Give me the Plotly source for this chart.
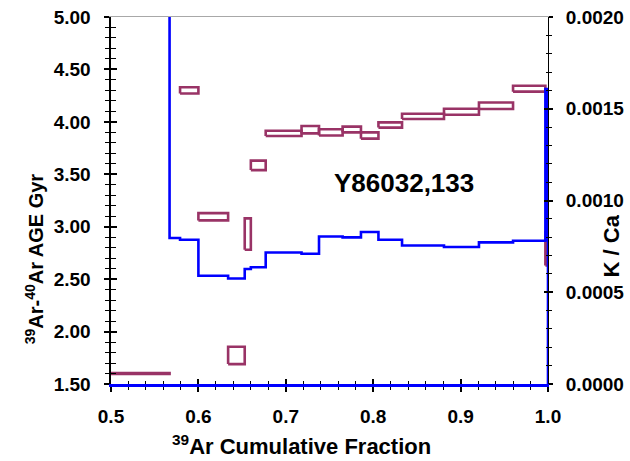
import plotly.graph_objects as go

# ---- data ----
edges = [0.500, 0.567, 0.579, 0.600, 0.634, 0.653, 0.660, 0.677, 0.718, 0.738,
         0.765, 0.786, 0.806, 0.833, 0.881, 0.921, 0.960, 0.997, 1.000]
age_lo = [1.595, None, 4.270, 3.060, 1.690, 2.780, 3.540, 3.865, 3.890, 3.870,
          3.900, 3.840, 3.945, 4.027, 4.068, 4.123, 4.288, 2.630]
age_hi = [1.605, None, 4.330, 3.130, 1.855, 3.080, 3.630, 3.915, 3.960, 3.930,
          3.955, 3.900, 3.995, 4.078, 4.125, 4.185, 4.345, 2.950]
kca = [0.00250, 0.000796, 0.000786, 0.000590, 0.000575, 0.000627, 0.000636,
       0.000717, 0.000710, 0.000804, 0.000799, 0.000828, 0.000786, 0.000755,
       0.000747, 0.000772, 0.000781, 0.001608]
sample_label = "Y86032,133"

x_range = [0.5, 1.0]
age_range = [1.5, 5.0]
kca_range = [0.0, 0.002]

PURPLE = "#993366"
BLUE = "#0000FF"
FONT = "Liberation Sans, Arial, Helvetica, sans-serif"

# ---- build age boxes ----
bx, by = [], []
for i in range(len(age_lo)):
    if age_lo[i] is None:
        continue
    x0, x1 = edges[i], edges[i + 1]
    lo, hi = age_lo[i], age_hi[i]
    bx += [x0, x1, x1, x0, x0, None]
    by += [lo, lo, hi, hi, lo, None]

# ---- build K/Ca step line ----
sx, sy = [], []
for i, v in enumerate(kca):
    sx += [edges[i], edges[i + 1]]
    sy += [v, v]
sx.append(edges[-1])
sy.append(kca_range[0])

fig = go.Figure()
fig.add_trace(go.Scatter(x=bx, y=by, mode="lines",
                         line=dict(color=PURPLE, width=2.6),
                         showlegend=False, hoverinfo="skip"))
fig.add_trace(go.Scatter(x=sx, y=sy, mode="lines", yaxis="y2",
                         line=dict(color=BLUE, width=2.6),
                         showlegend=False, hoverinfo="skip"))
# carriers for the overlay tick axes
fig.add_trace(go.Scatter(x=[None], y=[None], xaxis="x3", yaxis="y3",
                         showlegend=False, hoverinfo="skip"))
fig.add_trace(go.Scatter(x=[None], y=[None], xaxis="x2", yaxis="y4",
                         showlegend=False, hoverinfo="skip"))

tickfont = dict(family=FONT, size=19, color="black", weight="bold")

common_x = dict(range=x_range, tickmode="linear", tick0=0.5, dtick=0.1,
                showgrid=False, zeroline=False, tickcolor="black",
                automargin=False)
common_y = dict(range=age_range, tickmode="linear", tick0=1.5, dtick=0.5,
                showgrid=False, zeroline=False, tickcolor="black",
                automargin=False)
common_k = dict(range=kca_range, tickmode="linear", tick0=0, dtick=0.0005,
                showgrid=False, zeroline=False, tickcolor="black",
                automargin=False)

fig.update_layout(
    width=630, height=461,
    margin=dict(l=111, r=82, t=17, b=77, autoexpand=False),
    paper_bgcolor="white", plot_bgcolor="white",
    xaxis=dict(**common_x, ticks="outside", ticklen=5, tickwidth=1.5,
               minor=dict(dtick=0.02, ticks="outside", ticklen=3.5,
                          tickwidth=1, tickcolor="black"),
               showline=True, linecolor=BLUE, linewidth=2.5,
               tickformat=".1f", tickfont=tickfont, ticklabelstandoff=8),
    xaxis3=dict(**common_x, overlaying="x", anchor="y3", ticks="inside",
                ticklen=5, tickwidth=1.5,
                minor=dict(dtick=0.02, ticks="inside", ticklen=3.5,
                           tickwidth=1, tickcolor="black"),
                showline=False, showticklabels=False),
    xaxis2=dict(**common_x, overlaying="x", anchor="y4", side="top",
                ticks="", showline=True, linecolor="#a8a8a8", linewidth=1,
                showticklabels=False),
    yaxis=dict(**common_y, ticks="outside", ticklen=5.5, tickwidth=1.5,
               minor=dict(dtick=0.1, ticks="outside", ticklen=4.5,
                          tickwidth=1, tickcolor="black"),
               showline=True, linecolor="black", linewidth=2,
               tickformat=".2f", tickfont=tickfont, ticklabelstandoff=9),
    yaxis3=dict(**common_y, overlaying="y", anchor="x3", ticks="inside",
                ticklen=5.5, tickwidth=1.5,
                minor=dict(dtick=0.1, ticks="inside", ticklen=4.5,
                           tickwidth=1, tickcolor="black"),
                showline=False, showticklabels=False),
    yaxis2=dict(**common_k, overlaying="y", side="right", anchor="x",
                ticks="outside", ticklen=4, tickwidth=1.5,
                minor=dict(dtick=0.0001, ticks="outside", ticklen=2.5,
                           tickwidth=1, tickcolor="black"),
                showline=True, linecolor="black", linewidth=1,
                layer="below traces",
                tickformat=".4f", tickfont=tickfont, ticklabelstandoff=9),
    yaxis4=dict(**common_k, overlaying="y", side="right", anchor="x2",
                ticks="inside", ticklen=4, tickwidth=1.5,
                minor=dict(dtick=0.0001, ticks="inside", ticklen=2.5,
                           tickwidth=1, tickcolor="black"),
                showline=False, showticklabels=False),
)

fig.add_annotation(text="<sup>39</sup>Ar Cumulative Fraction",
                   xref="paper", yref="paper", x=0.435, y=-0.166,
                   xanchor="center", yanchor="middle", showarrow=False,
                   font=dict(family=FONT, size=22, color="black", weight="bold"))
fig.add_annotation(text="<sup>39</sup>Ar-<sup>40</sup>Ar AGE Gyr",
                   xref="paper", yref="paper", x=-0.176, y=0.34,
                   xanchor="center", yanchor="middle", showarrow=False,
                   textangle=-90,
                   font=dict(family=FONT, size=20, color="black", weight="bold"))
fig.add_annotation(text="K / Ca",
                   xref="paper", yref="paper", x=1.146, y=0.377,
                   xanchor="center", yanchor="middle", showarrow=False,
                   textangle=-90,
                   font=dict(family=FONT, size=22, color="black", weight="bold"))
fig.add_annotation(text=sample_label, xref="x", yref="y", x=0.8355, y=3.42,
                   xanchor="center", yanchor="middle", showarrow=False,
                   font=dict(family=FONT, size=26, color="black", weight="bold"))

fig.write_html("out.html")
